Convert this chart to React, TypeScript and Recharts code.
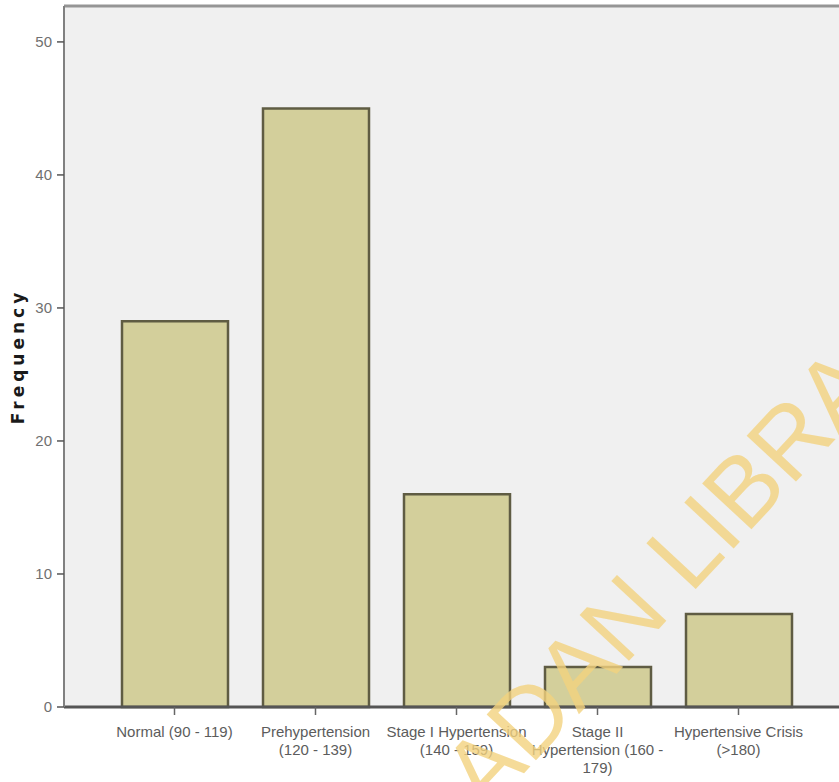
import { BarChart, Bar, XAxis, YAxis, CartesianGrid, ReferenceLine } from 'recharts'

// systolic blood pressure groups, wrapped the way they sit under the axis
const categoryLines: string[][] = [
  ['Normal (90 - 119)'],
  ['Prehypertension', '(120 - 139)'],
  ['Stage I Hypertension', '(140 - 159)'],
  ['Stage II', 'Hypertension (160 -', '179)'],
  ['Hypertensive Crisis', '(>180)'],
]
const categories = categoryLines.map((l) => l.join(' '))
const frequencies = [29, 45, 16, 3, 7]
const yTicks = [0, 10, 20, 30, 40, 50]
const Y_MAX = 52.7

const data = categories.map((name, i) => ({ name, count: frequencies[i] }))

const FONT = '"Liberation Sans", Arial, sans-serif'
const BAR_FILL = '#d3cf9b'
const BAR_EDGE = '#5f5c43'
const PLOT_BG = '#f0f0f0'

function CategoryTick(props: any) {
  const { x, y, payload } = props
  const lines = categoryLines[payload.index] ?? [String(payload.value)]
  return (
    <text x={x} y={y} textAnchor="middle" fill="#5c5c5c" fontSize={15} fontFamily={FONT}>
      {lines.map((line, i) => (
        <tspan key={i} x={x} dy={i === 0 ? 20 : 18}>
          {line}
        </tspan>
      ))}
    </text>
  )
}

function FrequencyLabel(props: any) {
  const vb = props.viewBox || { y: 6, height: 701 }
  const cx = 18
  const cy = vb.y + vb.height / 2
  return (
    <text
      x={cx}
      y={cy}
      transform={`rotate(-90 ${cx} ${cy})`}
      textAnchor="middle"
      dominantBaseline="central"
      fontFamily='"DejaVu Sans", sans-serif'
      fontWeight="bold"
      fontSize={17}
      letterSpacing={4}
      fill="#1a1a1a"
    >
      Frequency
    </text>
  )
}

export default function App() {
  return (
    <div style={{ position: 'absolute', left: 0, top: 0, width: 839, height: 782, background: '#fff' }}>
      <BarChart
        width={839}
        height={782}
        data={data}
        margin={{ top: 6, right: 0, bottom: 0, left: 0 }}
        barSize={106}
      >
        <CartesianGrid vertical={false} horizontal={false} fill={PLOT_BG} />
        <XAxis
          dataKey="name"
          height={75}
          padding={{ left: 40, right: 30 }}
          tick={<CategoryTick />}
          tickSize={8}
          tickMargin={2}
          interval={0}
          axisLine={{ stroke: '#555', strokeWidth: 3 }}
          tickLine={{ stroke: '#666', strokeWidth: 1.5 }}
        />
        <YAxis
          width={64}
          domain={[0, Y_MAX]}
          ticks={yTicks}
          tickSize={7}
          tickMargin={5}
          tick={{ fontSize: 15, fill: '#707070', fontFamily: FONT }}
          axisLine={{ stroke: '#808080', strokeWidth: 2 }}
          tickLine={{ stroke: '#555', strokeWidth: 1.5 }}
          label={{ content: <FrequencyLabel /> }}
        />
        <ReferenceLine y={Y_MAX} stroke="#959595" strokeWidth={3} ifOverflow="visible" />
        <Bar
          dataKey="count"
          fill={BAR_FILL}
          stroke={BAR_EDGE}
          strokeWidth={2.5}
          isAnimationActive={false}
        />
      </BarChart>
      {/* library stamp laid diagonally over the chart */}
      <svg
        width={839}
        height={782}
        style={{ position: 'absolute', left: 0, top: 0, pointerEvents: 'none' }}
      >
        <text
          x={486}
          y={814}
          transform="rotate(-47 486 814)"
          fontFamily={FONT}
          fontSize={98}
          fill="#f2d27e"
          fillOpacity={0.8}
        >
          ADAN LIBRARY
        </text>
      </svg>
    </div>
  )
}
